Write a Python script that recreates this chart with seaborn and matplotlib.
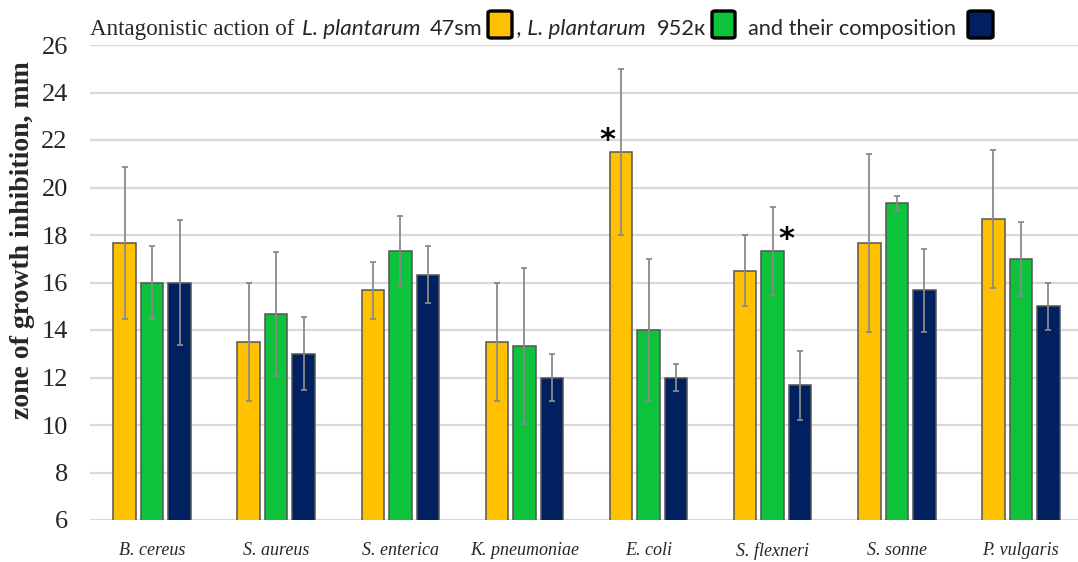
import numpy as np
import pandas as pd
import matplotlib
matplotlib.use("Agg")
import matplotlib.pyplot as plt
from matplotlib.patches import FancyBboxPatch
import seaborn as sns

# --- data -------------------------------------------------------------
species = ["B. cereus", "S. aureus", "S. enterica", "K. pneumoniae",
           "E. coli", "S. flexneri", "S. sonne", "P. vulgaris"]
strains = ["L. plantarum 47sm", "L. plantarum 952к", "composition"]

mean_47sm = [17.67, 13.5, 15.67, 13.5, 21.5, 16.5, 17.67, 18.67]
sd_47sm = [3.2, 2.5, 1.2, 2.5, 3.5, 1.5, 3.76, 2.92]

mean_952k = [16.0, 14.67, 17.33, 13.33, 14.0, 17.33, 19.33, 17.0]
sd_952k = [1.52, 2.62, 1.47, 3.29, 3.0, 1.87, 0.33, 1.55]

mean_comp = [16.0, 13.0, 16.33, 12.0, 12.0, 11.67, 15.67, 15.0]
sd_comp = [2.65, 1.53, 1.2, 1.0, 0.58, 1.46, 1.76, 1.0]

# significance marks: (strain index, species index)
significant = [(0, 4), (1, 5)]

palette = ["#FFC000", "#0DC33C", "#002060"]

# --- frame ------------------------------------------------------------
df = pd.DataFrame({
    "species": np.repeat(species, 3),
    "strain": strains * len(species),
    "zone": np.ravel(np.column_stack([mean_47sm, mean_952k, mean_comp])),
})
errors = [sd_47sm, sd_952k, sd_comp]

sns.set_style("white")
serif = ["Liberation Serif", "DejaVu Serif"]
sans = ["Lato", "DejaVu Sans"]
plt.rcParams["font.family"] = serif

W, H = 1078, 562
fig = plt.figure(figsize=(W / 100, H / 100), dpi=100)
ax = fig.add_axes([90 / W, 1 - 520 / H, (1078 - 90) / W, (520 - 45) / H])

sns.barplot(data=df, x="species", y="zone", hue="strain", order=species,
            hue_order=strains, palette=palette, width=0.665, gap=0.183,
            edgecolor="#555555", linewidth=1.1, saturation=1,
            legend=False, ax=ax, zorder=3)

bar_sets = list(ax.containers)[:len(strains)]

# error bars and significance marks placed on the drawn bars
for si, cont in enumerate(bar_sets):
    xs = [b.get_x() + b.get_width() / 2 for b in cont]
    hs = [b.get_height() for b in cont]
    ax.errorbar(xs, hs, yerr=errors[si], fmt="none", ecolor="#8a8a8a",
                elinewidth=1.3, capsize=2.3, capthick=1.3, zorder=4)
    for (s, k) in significant:
        if s == si:
            dx = -14 if si == 0 else 14
            ax.annotate("*", xy=(xs[k], hs[k]), xytext=(dx * 0.72, -2.5),
                        textcoords="offset points", ha="center", va="bottom",
                        fontsize=22, fontweight="bold", color="black",
                        family="DejaVu Sans", zorder=5)

ax.set_ylim(6, 26)
ax.set_xlim(-0.5, 7.46)
ax.set_yticks(np.arange(6, 27, 2))
ax.yaxis.grid(True, color="#d9d9d9", linewidth=1.6, zorder=0)
ax.set_axisbelow(True)
for sp in ax.spines.values():
    sp.set_visible(False)
ax.tick_params(axis="both", length=0)
ax.tick_params(axis="y", labelsize=19, pad=16)
ax.tick_params(axis="x", labelsize=13, pad=16)
for lab in ax.get_yticklabels():
    lab.set_family(serif)
for lab in ax.get_xticklabels():
    lab.set_family(serif)
    lab.set_fontstyle("italic")
ax.set_xlabel("")
ax.set_ylabel("")

fig.text(23 / W, 1 - 240 / H, "zone of growth inhibition, mm", rotation=90,
         ha="center", va="center", fontsize=20, fontweight="bold",
         family=serif)

# --- title with colour keys --------------------------------------------
base = 1 - 35 / H
fig.text(90 / W, base, "Antagonistic action of", fontsize=16.6, family=serif,
         va="baseline", ha="left")
fig.text(302 / W, base, "L. plantarum", fontsize=16.2, family=sans,
         style="italic", va="baseline", ha="left")
fig.text(430 / W, base, "47sm", fontsize=15.7, family=sans,
         va="baseline", ha="left")
fig.text(517 / W, base, ", L. plantarum", fontsize=16.2, family=sans,
         style="italic", va="baseline", ha="left")
fig.text(657 / W, base, "952к", fontsize=15.7, family=sans,
         va="baseline", ha="left")
fig.text(748 / W, base, "and their composition", fontsize=15.7, family=sans,
         va="baseline", ha="left")

for (x0, x1), col in zip([(488, 512), (712, 735), (968, 993)], palette):
    fig.patches.append(FancyBboxPatch(
        (x0 / W, 1 - 38 / H), (x1 - x0) / W, 27 / H,
        boxstyle="round,pad=0,rounding_size=0.003", transform=fig.transFigure,
        facecolor=col, edgecolor="black", linewidth=2.4, figure=fig))

fig.savefig("out.png", dpi=100)
